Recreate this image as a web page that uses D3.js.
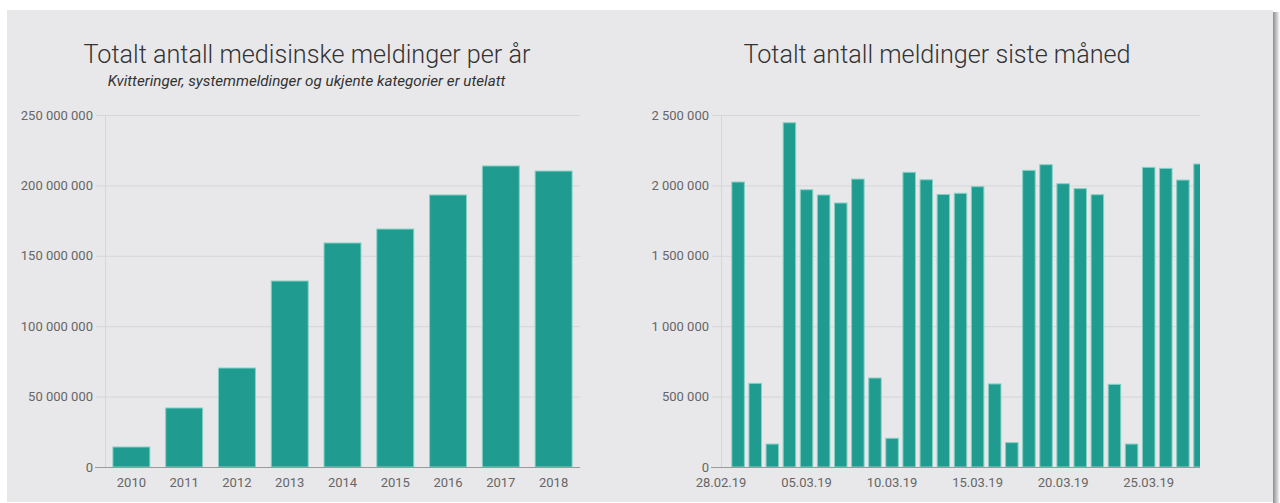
<!DOCTYPE html>
<html>
<head>
<meta charset="utf-8">
<script src="https://cdn.jsdelivr.net/npm/d3@7/dist/d3.min.js"></script>
<style>
  html, body { margin: 0; padding: 0; background: #ffffff; }
  svg { display: block; }
  text { font-family: Roboto, "Noto Sans", sans-serif; }
</style>
</head>
<body>
<svg id="chart" width="1280" height="503"></svg>
<script>
// ---------- data ----------
const years = ["2010", "2011", "2012", "2013", "2014", "2015", "2016", "2017", "2018"];
const yearTotals = [14200000, 41900000, 70300000, 132100000, 159100000, 169000000, 193200000, 213800000, 210200000];
const yearTicks = [0, 50000000, 100000000, 150000000, 200000000, 250000000];

const days = ["2019-03-01","2019-03-02","2019-03-03","2019-03-04","2019-03-05","2019-03-06","2019-03-07",
  "2019-03-08","2019-03-09","2019-03-10","2019-03-11","2019-03-12","2019-03-13","2019-03-14",
  "2019-03-15","2019-03-16","2019-03-17","2019-03-18","2019-03-19","2019-03-20","2019-03-21",
  "2019-03-22","2019-03-23","2019-03-24","2019-03-25","2019-03-26","2019-03-27","2019-03-28"];
const dayTotals = [2024000, 594000, 163000, 2445000, 1969000, 1932000, 1875000,
  2045000, 632000, 204000, 2093000, 2040000, 1936000, 1944000,
  1991000, 590000, 173000, 2107000, 2147000, 2012000, 1977000,
  1934000, 587000, 163000, 2128000, 2121000, 2038000, 2152000];
const dayTicks = [0, 500000, 1000000, 1500000, 2000000, 2500000];
const dayAxisTicks = ["2019-02-28","2019-03-05","2019-03-10","2019-03-15","2019-03-20","2019-03-25"];

const titleLeft = "Totalt antall medisinske meldinger per år";
const subtitleLeft = "Kvitteringer, systemmeldinger og ukjente kategorier er utelatt";
const titleRight = "Totalt antall meldinger siste måned";

// ---------- style ----------
const barFill = "#1f9b8f";
const barStroke = "#86d0c6";
const gridColor = "#d6d6d8";
const axisColor = "#9a9a9a";
const labelColor = "#666666";
const titleColor = "#333333";

const fmt = v => d3.format(",")(v).replace(/,/g, " ");
const parse = d3.utcParse("%Y-%m-%d");
const dayFmt = d3.utcFormat("%d.%m.%y");

const svg = d3.select("#chart");

// panel + shadow
const defs = svg.append("defs");
const sh = defs.append("linearGradient").attr("id", "shadow").attr("x1", "0").attr("x2", "1");
sh.append("stop").attr("offset", "0").attr("stop-color", "#8c8c8c");
sh.append("stop").attr("offset", "1").attr("stop-color", "#ffffff");
svg.append("rect").attr("x", 1273).attr("y", 12).attr("width", 7).attr("height", 491).attr("fill", "url(#shadow)");
svg.append("rect").attr("x", 7).attr("y", 10).attr("width", 1266).attr("height", 492).attr("fill", "#e8e8ea");

const plotTop = 115, plotBottom = 467;

function drawYAxis(g, y, ticks, x0, x1) {
  g.selectAll("line.grid").data(ticks.filter(t => t !== 0)).enter().append("line")
    .attr("x1", x0 - 9).attr("x2", x1)
    .attr("y1", d => y(d) + 0.5).attr("y2", d => y(d) + 0.5)
    .attr("stroke", gridColor).attr("stroke-width", 1);
  g.append("line").attr("x1", x0 + 0.5).attr("x2", x0 + 0.5).attr("y1", plotTop).attr("y2", plotBottom)
    .attr("stroke", gridColor).attr("stroke-width", 1);
  g.selectAll("text.ylab").data(ticks).enter().append("text")
    .attr("x", x0 - 12).attr("y", d => y(d)).attr("dy", "0.35em")
    .attr("text-anchor", "end").attr("font-size", 13).attr("fill", labelColor)
    .text(fmt);
}

// ---------- left chart ----------
{
  const x0 = 105, x1 = 580;
  const x = d3.scaleBand().domain(years).range([x0, x1]).paddingInner(0.3).paddingOuter(0.15);
  const y = d3.scaleLinear().domain([0, 250000000]).range([plotBottom, plotTop]);
  const g = svg.append("g");
  drawYAxis(g, y, yearTicks, x0, x1);
  g.selectAll("rect.bar").data(years).enter().append("rect")
    .attr("x", d => x(d)).attr("width", x.bandwidth())
    .attr("y", (d, i) => y(yearTotals[i])).attr("height", (d, i) => y(0) - y(yearTotals[i]))
    .attr("fill", barFill).attr("stroke", barStroke).attr("stroke-width", 1);
  g.append("line").attr("x1", x0 - 10).attr("x2", x1).attr("y1", plotBottom + 0.5).attr("y2", plotBottom + 0.5)
    .attr("stroke", axisColor).attr("stroke-width", 1);
  g.selectAll("text.xlab").data(years).enter().append("text")
    .attr("x", d => x(d) + x.bandwidth() / 2).attr("y", 487)
    .attr("text-anchor", "middle").attr("font-size", 13).attr("fill", labelColor).text(d => d);
  g.append("text").attr("x", 307).attr("y", 63).attr("text-anchor", "middle")
    .attr("font-size", 25.2).attr("font-weight", 300).attr("fill", titleColor).text(titleLeft);
  g.append("text").attr("x", 306.5).attr("y", 86).attr("text-anchor", "middle")
    .attr("font-size", 15.2).attr("font-style", "italic").attr("fill", titleColor).text(subtitleLeft);
}

// ---------- right chart ----------
{
  const x0 = 721, x1 = 1200;
  const x = d3.scaleUtc().domain([parse("2019-02-28"), parse("2019-03-28")]).range([x0, x1]);
  const y = d3.scaleLinear().domain([0, 2500000]).range([plotBottom, plotTop]);
  const g = svg.append("g");
  drawYAxis(g, y, dayTicks, x0, x1);
  defs.append("clipPath").attr("id", "clipR").append("rect")
    .attr("x", x0).attr("y", 0).attr("width", x1 - x0).attr("height", 503);
  const bw = 12.5;
  g.append("g").attr("clip-path", "url(#clipR)")
    .selectAll("rect").data(days).enter().append("rect")
    .attr("x", d => x(parse(d)) - bw / 2).attr("width", bw)
    .attr("y", (d, i) => y(dayTotals[i])).attr("height", (d, i) => y(0) - y(dayTotals[i]))
    .attr("fill", barFill).attr("stroke", barStroke).attr("stroke-width", 1);
  g.append("line").attr("x1", x0 - 10).attr("x2", x1).attr("y1", plotBottom + 0.5).attr("y2", plotBottom + 0.5)
    .attr("stroke", axisColor).attr("stroke-width", 1);
  g.selectAll("text.xlab").data(dayAxisTicks).enter().append("text")
    .attr("x", d => x(parse(d))).attr("y", 487)
    .attr("text-anchor", "middle").attr("font-size", 13).attr("fill", labelColor)
    .text(d => dayFmt(parse(d)));
  g.append("text").attr("x", 937).attr("y", 63).attr("text-anchor", "middle")
    .attr("font-size", 25.2).attr("font-weight", 300).attr("fill", titleColor).text(titleRight);
}
</script>
</body>
</html>
